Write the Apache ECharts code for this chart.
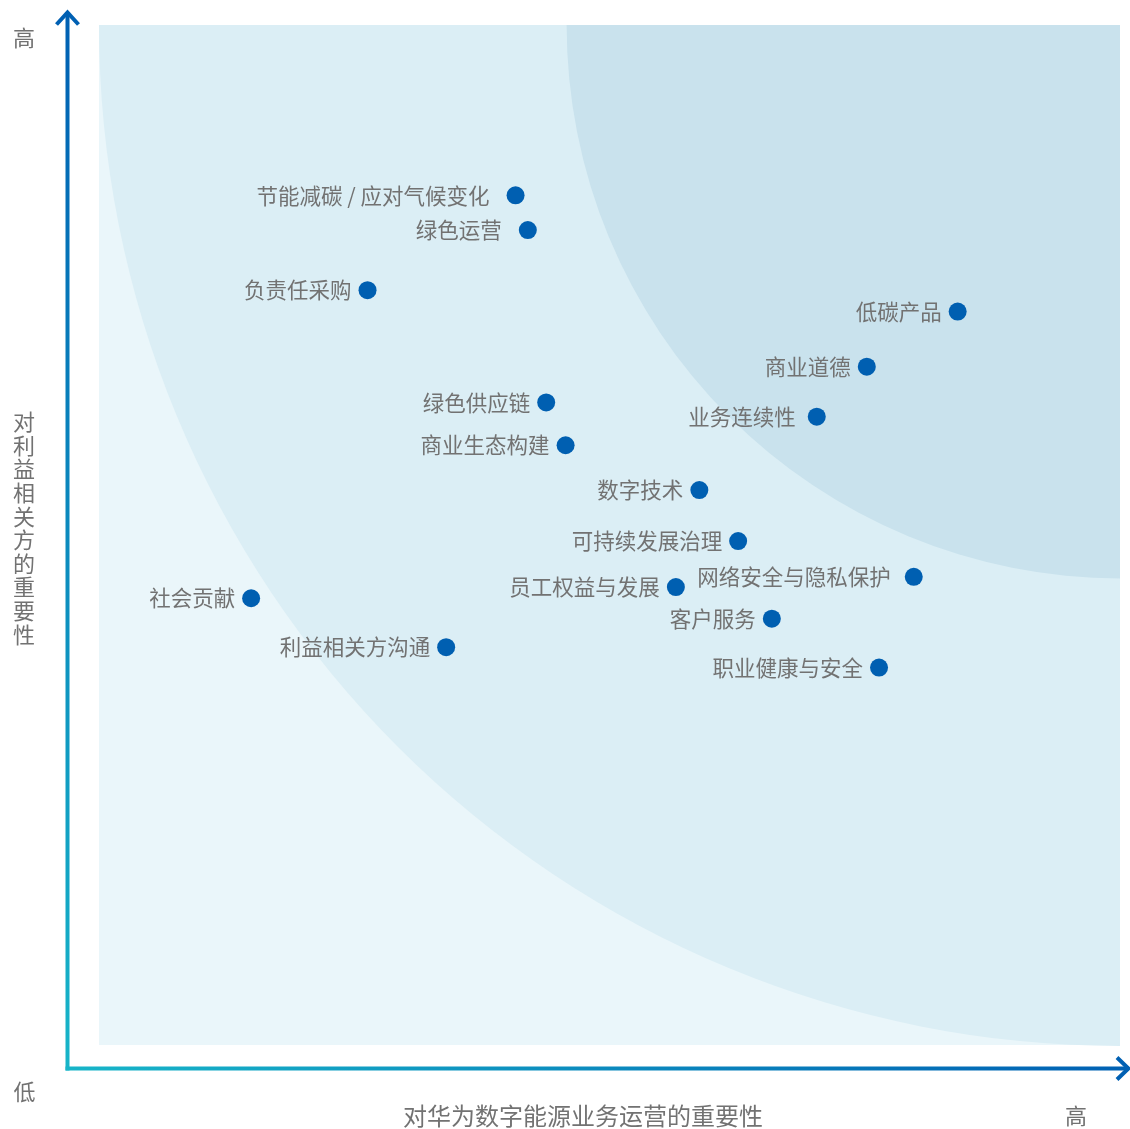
<!DOCTYPE html>
<html>
<head>
<meta charset="utf-8">
<style>
html,body{margin:0;padding:0;background:#fff;}
#chart{width:1130px;height:1129px;}
</style>
<script src="https://cdn.jsdelivr.net/npm/echarts@6/dist/echarts.min.js"></script>
</head>
<body>
<div id="chart"></div>
<script>
// ---- data ----
var topics = ['节能减碳 / 应对气候变化','绿色运营','负责任采购','低碳产品','商业道德','绿色供应链','业务连续性','商业生态构建','数字技术','可持续发展治理','网络安全与隐私保护','员工权益与发展','社会贡献','客户服务','利益相关方沟通','职业健康与安全'];
var businessImportance = [4.08,4.20,2.63,8.41,7.52,4.38,7.03,4.57,5.88,6.26,7.98,5.65,1.49,6.59,3.40,7.64];
var stakeholderImportance = [8.33,7.99,7.40,7.19,6.65,6.30,6.16,5.88,5.44,4.94,4.59,4.49,4.38,4.18,3.90,3.70];
var xAxisName = '对华为数字能源业务运营的重要性';
var yAxisName = '对利益相关方的重要性';
var highLabel = '高';
var lowLabel = '低';
var zoneRadii = [10, 5.42]; // in axis units, measured from top-right corner

// ---- style (label gaps) ----
var labelGap = {'节能减碳 / 应对气候变化':17,'绿色运营':17,'业务连续性':12,'网络安全与隐私保护':14};
var FONT = '"Noto Sans CJK SC","Noto Sans",sans-serif';
var TEXT = '#727272';

var chart = echarts.init(document.getElementById('chart'));
var points = topics.map(function(n,i){
  return {name:n, value:[businessImportance[i], stakeholderImportance[i]],
    label:{distance: labelGap[n] || 7}};
});
chart.setOption({
  animation:false,
  grid:{left:99, top:25, right:10, bottom:84},
  xAxis:{type:'value', min:0, max:10, show:false},
  yAxis:{type:'value', min:0, max:10, show:false},
  series:[{
    type:'scatter', z:10, symbolSize:18, data:points,
    itemStyle:{color:'#005fb1', opacity:1},
    label:{show:true, position:'left', formatter:'{b}', color:TEXT, fontSize:21.5, fontFamily:FONT}
  }]
});

var p00 = chart.convertToPixel({gridIndex:0},[0,0]);
var p11 = chart.convertToPixel({gridIndex:0},[10,10]);
var corner = chart.convertToPixel({gridIndex:0},[10,10]);
var rBig = corner[0] - chart.convertToPixel({gridIndex:0},[10-zoneRadii[0],10])[0];
var rSmall = corner[0] - chart.convertToPixel({gridIndex:0},[10-zoneRadii[1],10])[0];
var ax = 67.5, ay = 1068.5;
var blue = '#0060b3', cyan = '#17b5c8';
chart.setOption({
  graphic:[
    {type:'rect', z:0, shape:{x:p00[0], y:p11[1], width:p11[0]-p00[0], height:p00[1]-p11[1]}, style:{fill:'#eaf6fa'}},
    {type:'sector', z:1, shape:{cx:corner[0], cy:corner[1], r:rBig, r0:0, startAngle:Math.PI/2, endAngle:Math.PI, clockwise:true}, style:{fill:'#dbeef5'}},
    {type:'sector', z:2, shape:{cx:corner[0], cy:corner[1], r:rSmall, r0:0, startAngle:Math.PI/2, endAngle:Math.PI, clockwise:true}, style:{fill:'#c9e2ed'}},
    {type:'line', z:3, shape:{x1:ax, y1:ay+2, x2:ax, y2:12}, style:{lineWidth:4, stroke:new echarts.graphic.LinearGradient(0,1,0,0,[{offset:0,color:cyan},{offset:1,color:blue}])}},
    {type:'line', z:3, shape:{x1:ax-2, y1:ay, x2:1129, y2:ay}, style:{lineWidth:4, stroke:new echarts.graphic.LinearGradient(0,0,1,0,[{offset:0,color:cyan},{offset:1,color:blue}])}},
    {type:'polyline', z:3, shape:{points:[[ax-11,24.5],[ax,12.5],[ax+11,24.5]]}, style:{lineWidth:4, stroke:blue, fill:null}},
    {type:'polyline', z:3, shape:{points:[[1117,ay-11],[1128.5,ay],[1117,ay+11]]}, style:{lineWidth:4, stroke:blue, fill:null}},
    {type:'text', z:5, style:{text:highLabel, x:24, y:38, align:'center', verticalAlign:'middle', fontSize:22, fontFamily:FONT, fill:TEXT}},
    {type:'text', z:5, style:{text:lowLabel, x:24.5, y:1092, align:'center', verticalAlign:'middle', fontSize:22, fontFamily:FONT, fill:TEXT}},
    {type:'text', z:5, style:{text:highLabel, x:1076, y:1116, align:'center', verticalAlign:'middle', fontSize:22, fontFamily:FONT, fill:TEXT}},
    {type:'text', z:5, style:{text:xAxisName, x:583, y:1116, align:'center', verticalAlign:'middle', fontSize:24, fontFamily:FONT, fill:TEXT}},
    {type:'text', z:5, style:{text:yAxisName.split('').join('\n'), x:24, y:528, align:'center', verticalAlign:'middle', lineHeight:23.6, fontSize:22, fontFamily:FONT, fill:TEXT}}
  ]
});
</script>
</body>
</html>
